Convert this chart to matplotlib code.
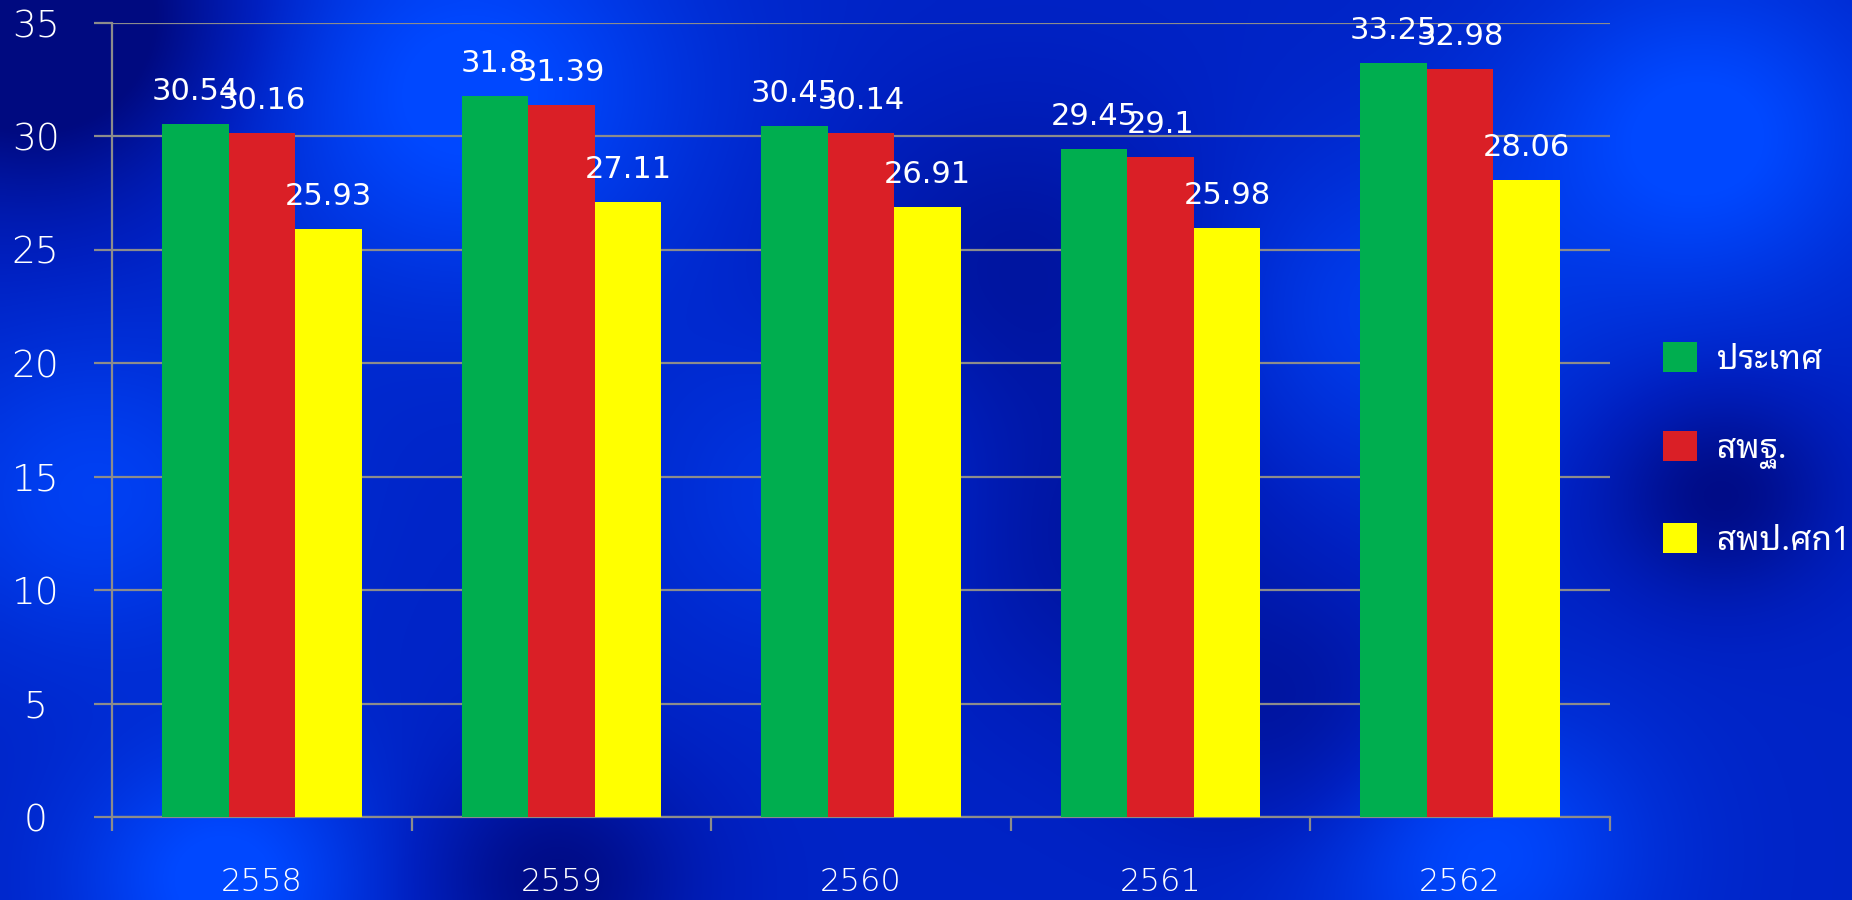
import numpy as np
import matplotlib.pyplot as plt
from matplotlib.colors import LinearSegmentedColormap
from matplotlib.patches import Patch

years = ['2558', '2559', '2560', '2561', '2562']
series_names = ['ประเทศ', 'สพฐ.', 'สพป.ศก1']
prathet = [30.54, 31.8, 30.45, 29.45, 33.25]
sptho = [30.16, 31.39, 30.14, 29.1, 32.98]
sppsk1 = [25.93, 27.11, 26.91, 25.98, 28.06]
colors = ['#00AE4F', '#DA1F26', '#FFFF00']

plt.rcParams['font.family'] = ['DejaVu Sans', 'Noto Sans Thai Looped']

fig = plt.figure(figsize=(18.52, 9), dpi=100)

# фон: синий градиент с пятнами (только декор)
bg = fig.add_axes([0, 0, 1, 1], zorder=-10)
h, w = 180, 370
yy, xx = np.mgrid[0:1:h * 1j, 0:1:w * 1j]
field = 0.55 + 0.0 * xx
blobs = [  # (x, y, ширина, сила) в долях фигуры, y сверху
    (0.02, 0.02, 0.10, -0.9),
    (0.25, 0.10, 0.12, 0.5),
    (0.05, 0.55, 0.10, 0.35),
    (0.12, 0.98, 0.08, 0.5),
    (0.30, 0.98, 0.07, -0.5),
    (0.55, 0.30, 0.10, -0.3),
    (0.58, 0.60, 0.10, -0.3),
    (0.45, 0.55, 0.10, 0.25),
    (0.75, 0.35, 0.10, 0.3),
    (0.92, 0.15, 0.10, 0.5),
    (0.93, 0.55, 0.06, -0.5),
    (0.80, 0.95, 0.09, 0.45),
    (0.70, 0.80, 0.08, -0.3),
]
for bx, by, bw, s in blobs:
    field += s * np.exp(-(((xx - bx) / bw) ** 2 + ((yy - by) / (bw * 1.8)) ** 2))
field = np.clip(field, 0, 1)
cmap = LinearSegmentedColormap.from_list('bl', ['#000A80', '#0020C0', '#0048FF'])
bg.imshow(field, cmap=cmap, aspect='auto', extent=[0, 1, 0, 1], origin='upper',
          interpolation='bicubic', vmin=0, vmax=1)
bg.axis('off')

ax = fig.add_axes([0.0605, 0.0922, 0.8088, 0.8822])
ax.patch.set_alpha(0)

x = np.arange(len(years))
bw = 0.222
for i, vals in enumerate([prathet, sptho, sppsk1]):
    pos = x + (i - 1) * bw
    ax.bar(pos, vals, width=bw, color=colors[i], zorder=3)
    for p, v in zip(pos, vals):
        ax.annotate(f'{v:g}', (p, v), xytext=(0, 13), textcoords='offset points',
                    ha='center', va='bottom', color='white', fontsize=22, zorder=4)

ax.set_xlim(-0.5, len(years) - 0.5)
ax.set_ylim(0, 35)
ax.set_yticks(range(0, 36, 5))
ax.grid(axis='y', color='#8C8C8C', linewidth=1.6, zorder=1)
ax.set_axisbelow(True)

for side in ['top', 'right']:
    ax.spines[side].set_visible(False)
for side in ['left', 'bottom']:
    ax.spines[side].set_color('#8C8C8C')
    ax.spines[side].set_linewidth(1.6)

ax.set_xticks(np.arange(-0.5, len(years), 1))
ax.set_xticklabels([])
ax.set_xticks(x, minor=True)
ax.set_xticklabels(years, minor=True, fontsize=23, fontweight='light', color='white')
ax.tick_params(axis='x', which='major', length=10, width=1.6, color='#8C8C8C')
ax.tick_params(axis='x', which='minor', length=0, pad=36)
ax.tick_params(axis='y', length=13, width=1.6, color='#8C8C8C', pad=42)
ax.set_yticklabels([str(v) for v in range(0, 36, 5)], fontsize=27, fontweight='light',
                   color='white', ha='center')

handles = [Patch(facecolor=c, edgecolor='none') for c in colors]
leg = fig.legend(handles, series_names, loc='center left', bbox_to_anchor=(0.882, 0.5),
                 frameon=False, labelcolor='white', handlelength=1.0,
                 handleheight=1.0, labelspacing=1.64, handletextpad=0.6,
                 prop={'family': ['Noto Sans Thai Looped', 'DejaVu Sans'], 'size': 24,
                       'weight': 'light'})

plt.savefig('out.png', dpi=100)
